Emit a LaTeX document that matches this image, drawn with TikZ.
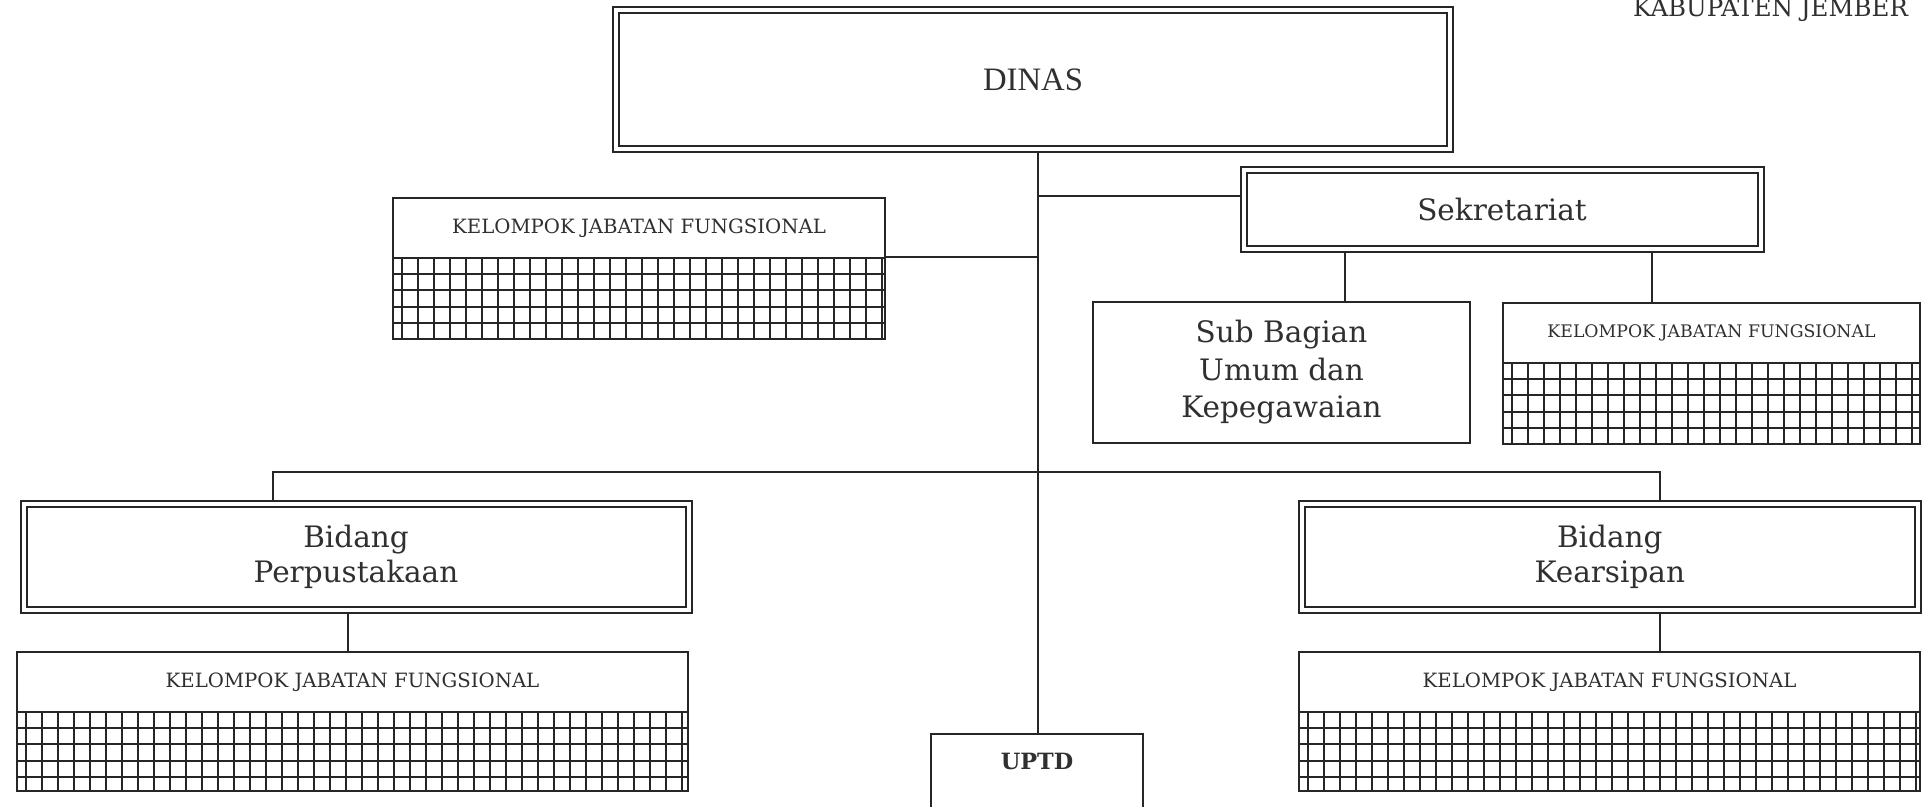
\documentclass[tikz,border=0pt]{standalone}
\usepackage{fontspec}
\setmainfont{DejaVu Serif}
\newfontfamily\dinasfont{Liberation Serif}
\usetikzlibrary{backgrounds,calc}
\definecolor{ink}{HTML}{262626}
\definecolor{txt}{HTML}{303030}
\tikzset{
  dbl/.style={draw=ink, double=white, double distance=4pt, line width=2pt, inner sep=0pt},
  plainbox/.style={draw=ink, line width=2pt, inner sep=0pt},
  conn/.style={draw=ink, line width=1.4pt},
  gridln/.style={draw=ink, line width=1.9pt},
  bigtext/.style={font=\fontsize{29.5}{36}\selectfont, text=txt, align=center},
  kjfhead/.style={plainbox, anchor=north west, minimum height=60pt, font=\fontsize{19.7}{22}\selectfont, text=txt},
  kjfgrid/.style={plainbox, anchor=north west, path picture={
      \foreach \k in {0,...,42}
        \draw[gridln] ($(path picture bounding box.north west)+(9pt+\k*16pt,2pt)$) -- ++(0pt,-100pt);
      \foreach \k in {1,...,4}
        \draw[gridln] ($(path picture bounding box.north west)+(-2pt,-\k*16.2pt)$) -- ++(800pt,0pt);
    }},
}
\begin{document}
\begin{tikzpicture}[x=1pt,y=-1pt]
\useasboundingbox (0,0) rectangle (1922,806);

% title cut at top
\node[anchor=base west, inner sep=0pt, font=\fontsize{24.5}{26}\selectfont, text=txt] (kab) at (1633,16) {KABUPATEN JEMBER};

% main boxes
\node[dbl, minimum width=834pt, minimum height=139pt, text=txt] (dinas) at (1033,79.5) {\dinasfont\fontsize{32.7}{36}\selectfont DINAS};
\node[dbl, bigtext, minimum width=517pt, minimum height=78.5pt] (sek) at (1502,209.25) {Sekretariat};

\node[kjfhead, minimum width=492pt] (kjfA) at (392,197) {KELOMPOK JABATAN FUNGSIONAL};
\node[kjfgrid, minimum width=492pt, minimum height=81pt] (kjfAg) at (392,257) {};

\node[plainbox, bigtext, font=\fontsize{29.5}{37.5}\selectfont, minimum width=377pt, minimum height=141pt] (sub) at (1281.5,372.5) {Sub Bagian\\Umum dan\\Kepegawaian};

\node[kjfhead, minimum width=417pt, font=\fontsize{17.3}{20}\selectfont] (kjfB) at (1502,302) {KELOMPOK JABATAN FUNGSIONAL};
\node[kjfgrid, minimum width=417pt, minimum height=81pt] (kjfBg) at (1502,362) {};

\node[dbl, bigtext, font=\fontsize{29.5}{35}\selectfont, minimum width=665pt, minimum height=106.5pt] (bidP) at (356,556.75) {Bidang\\Perpustakaan};
\node[dbl, bigtext, font=\fontsize{29.5}{35}\selectfont, minimum width=616.5pt, minimum height=106.5pt] (bidK) at (1609.75,556.75) {Bidang\\Kearsipan};

\node[kjfhead, minimum width=671pt] (kjfC) at (16,651) {KELOMPOK JABATAN FUNGSIONAL};
\node[kjfgrid, minimum width=671pt, minimum height=79pt] (kjfCg) at (16,711) {};

\node[kjfhead, minimum width=621pt] (kjfD) at (1298,651) {KELOMPOK JABATAN FUNGSIONAL};
\node[kjfgrid, minimum width=621pt, minimum height=79pt] (kjfDg) at (1298,711) {};

\node[plainbox, anchor=north, minimum width=212pt, text height=35pt, text depth=50pt, text=txt, font=\fontsize{22.4}{24}\selectfont\bfseries] (uptd) at (1037,733) {UPTD};

% connector guide coordinates
\coordinate (tk) at (1038,0);
\coordinate (b1) at (1038,196);
\coordinate (s1) at (1345,0);
\coordinate (s2) at (1652,0);
\coordinate (hb) at (0,472);
\coordinate (p1) at (273,0);
\coordinate (p2) at (348,0);
\coordinate (k1) at (1660,0);

\begin{scope}[on background layer]
\fill[white] (0,0) rectangle (1922,806);
\draw[conn] (dinas.south -| tk) -- (uptd.north -| tk);
\draw[conn] (b1) -- (b1 -| sek.west);
\draw[conn] (kjfAg.north east) -- (kjfAg.north east -| tk);
\draw[conn] (sek.south -| s1) -- (sub.north -| s1);
\draw[conn] (sek.south -| s2) -- (kjfB.north -| s2);
\draw[conn] (bidP.north -| p1) -- (hb -| p1) -- (hb -| k1) -- (bidK.north -| k1);
\draw[conn] (bidP.south -| p2) -- (kjfC.north -| p2);
\draw[conn] (bidK.south -| k1) -- (kjfD.north -| k1);
\end{scope}
\end{tikzpicture}
\end{document}
